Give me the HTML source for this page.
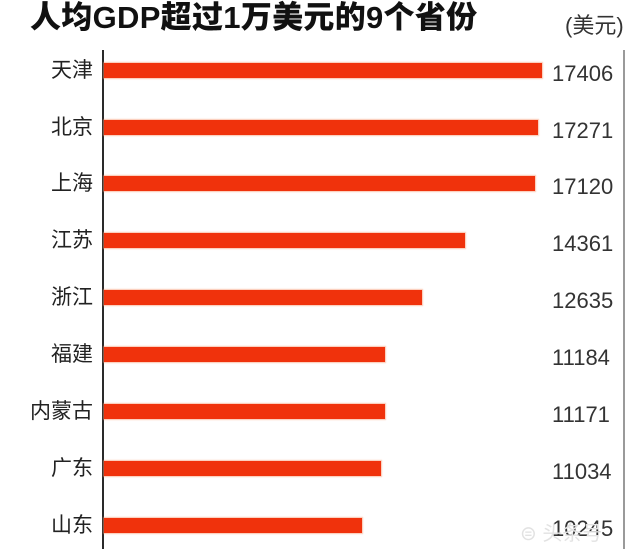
<!DOCTYPE html>
<html><head><meta charset="utf-8">
<style>
html,body{margin:0;padding:0;background:#fff;}
body{width:640px;height:556px;position:relative;overflow:hidden;font-family:"Liberation Sans","Noto Sans CJK SC",sans-serif;}
.t{position:absolute;white-space:nowrap;}
.title{left:30px;top:2px;font-size:31px;line-height:31px;font-weight:900;color:#111;letter-spacing:0.3px;}
.unit{left:565px;top:15px;font-size:22px;line-height:22px;color:#333;}
.lab{right:547px;font-size:21px;line-height:21px;color:#222;text-align:right;}
.val{left:552px;font-size:22px;line-height:22px;color:#333;}
.bar{position:absolute;left:104px;height:15px;background:#f0320c;box-shadow:0 0 1px 1px rgba(247,150,110,0.55);}
.ax{position:absolute;left:102px;top:50px;width:2px;height:499px;background:#2a2a2a;}
.rl{position:absolute;left:623px;top:50px;width:1.5px;height:499px;background:#9a9a9a;}
</style></head><body>
<div class="t title">人均GDP超过1万美元的9个省份</div>
<div class="t unit">(美元)</div>
<div class="ax"></div>
<div class="rl"></div>

<div class="bar" style="top:62.6px;width:437.7px"></div>
<div class="bar" style="top:119.5px;width:434.3px"></div>
<div class="bar" style="top:176.4px;width:430.5px"></div>
<div class="bar" style="top:233.3px;width:361.1px"></div>
<div class="bar" style="top:290.2px;width:317.7px"></div>
<div class="bar" style="top:347.1px;width:281.2px"></div>
<div class="bar" style="top:404px;width:280.9px"></div>
<div class="bar" style="top:460.9px;width:277.4px"></div>
<div class="bar" style="top:517.8px;width:257.6px"></div>

<div class="t lab" style="top:59.6px">天津</div>
<div class="t lab" style="top:116.5px">北京</div>
<div class="t lab" style="top:173.4px">上海</div>
<div class="t lab" style="top:230.3px">江苏</div>
<div class="t lab" style="top:287.2px">浙江</div>
<div class="t lab" style="top:344.1px">福建</div>
<div class="t lab" style="top:401px">内蒙古</div>
<div class="t lab" style="top:457.9px">广东</div>
<div class="t lab" style="top:514.8px">山东</div>

<div class="t val" style="top:62.6px">17406</div>
<div class="t val" style="top:119.5px">17271</div>
<div class="t val" style="top:176.4px">17120</div>
<div class="t val" style="top:233.3px">14361</div>
<div class="t val" style="top:290.2px">12635</div>
<div class="t val" style="top:347.1px">11184</div>
<div class="t val" style="top:404px">11171</div>
<div class="t val" style="top:460.9px">11034</div>
<div class="t val" style="top:517.8px">10245</div>

<div class="t" style="left:520px;top:524px;font-size:20px;line-height:20px;color:#e2e2e2;">⊜ 头条号</div>
</body></html>
